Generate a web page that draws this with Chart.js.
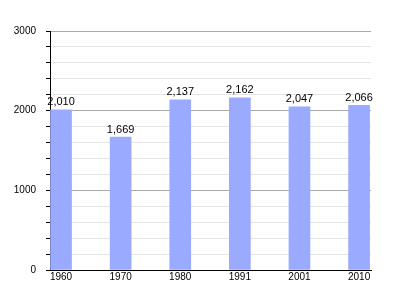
<!DOCTYPE html>
<html>
<head>
<meta charset="utf-8">
<script src="https://cdn.jsdelivr.net/npm/chart.js@4/dist/chart.umd.min.js"></script>
<style>
  html, body { margin: 0; padding: 0; background: #fff; }
  #wrap { width: 400px; height: 300px; }
</style>
</head>
<body>
<div id="wrap"><canvas id="chart" width="400" height="300"></canvas></div>
<script>
// --- data ---
const years = ['1960', '1970', '1980', '1991', '2001', '2010'];
const population = [2010, 1669, 2137, 2162, 2047, 2066];
const yTicks = [0, 1000, 2000, 3000];

const BAR_COLOR = '#99aaff';
const FONT = { family: '"Liberation Sans", Arial, sans-serif', size: 10 };

// value labels above each bar
const valueLabels = {
    id: 'valueLabels',
    afterDatasetsDraw(chart) {
        const ctx = chart.ctx;
        const meta = chart.getDatasetMeta(0);
        ctx.save();
        ctx.font = `${FONT.size + 1}px ${FONT.family}`;
        ctx.fillStyle = '#000';
        ctx.textAlign = 'center';
        ctx.textBaseline = 'bottom';
        meta.data.forEach((bar, i) => {
            ctx.fillText(population[i].toLocaleString('en-US'), bar.x, bar.y - 2);
        });
        ctx.restore();
    }
};

new Chart(document.getElementById('chart'), {
    type: 'bar',
    data: {
        datasets: [{
            data: population.map((v, i) => ({ x: i, y: v })),
            backgroundColor: BAR_COLOR,
            barThickness: 21,
            borderWidth: 0
        }]
    },
    options: {
        responsive: false,
        animation: false,
        layout: { padding: { top: 31, right: 29, left: 0, bottom: 0 } },
        plugins: { legend: { display: false }, tooltip: { enabled: false } },
        scales: {
            x: {
                type: 'linear',
                offset: false,
                min: -0.185,
                max: 5.2,
                afterBuildTicks: axis => { axis.ticks = years.map((_, i) => ({ value: i })); },
                afterFit: axis => { axis.height = 30; },
                ticks: {
                    callback: v => years[v],
                    color: '#000',
                    font: FONT,
                    padding: 1,
                    maxRotation: 0
                },
                grid: { display: false, drawTicks: false, offset: false },
                border: { color: '#000', width: 1 }
            },
            y: {
                min: 0,
                max: 3000,
                afterFit: axis => { axis.width = 50; },
                ticks: {
                    stepSize: 200,
                    callback: v => yTicks.includes(v) ? String(v) : '',
                    color: '#000',
                    font: FONT,
                    padding: 10,
                    autoSkip: false
                },
                grid: {
                    color: c => (c.tick && c.tick.value % 1000 === 0) ? '#aaaaaa' : '#e4e4e4',
                    tickColor: '#000',
                    tickLength: 4
                },
                border: { color: '#000', width: 1 }
            }
        }
    },
    plugins: [valueLabels]
});
</script>
</body>
</html>
